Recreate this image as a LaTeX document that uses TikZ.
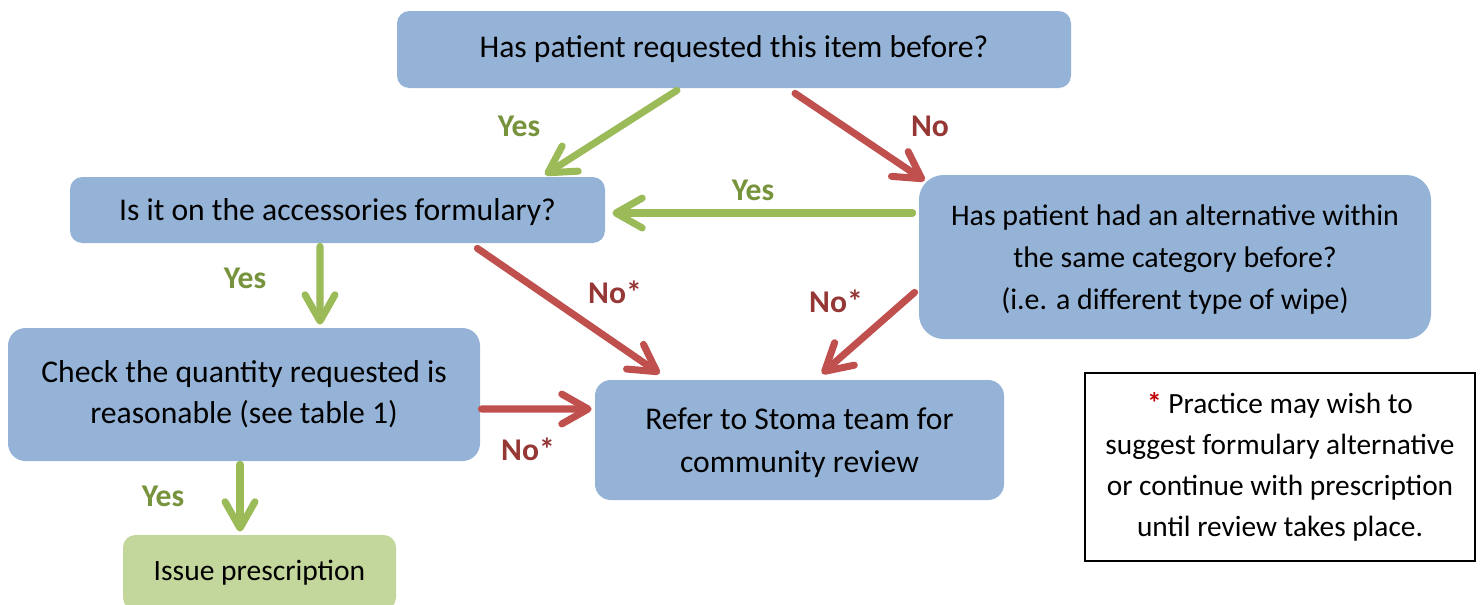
\documentclass[tikz,border=0pt]{standalone}
\usepackage{fontspec}
\setmainfont{Carlito}
\usetikzlibrary{arrows.meta,calc}
\definecolor{boxblue}{HTML}{95B3D7}
\definecolor{boxgreen}{HTML}{C3D69B}
\definecolor{arrgreen}{HTML}{9BBB59}
\definecolor{arrred}{HTML}{C0504D}
\definecolor{lblgreen}{HTML}{77933C}
\definecolor{lblred}{HTML}{953735}
\definecolor{starred}{HTML}{C00000}
\begin{document}
\begin{tikzpicture}[
  font=\fontsize{18}{23.5}\selectfont,
  box/.style={fill=boxblue, draw=none, rounded corners=7pt, align=center, inner sep=0pt},
  yesarrow/.style={draw=arrgreen, line width=4pt, line cap=round,
    -{Straight Barb[length=15pt,width=17pt,round]}},
  noarrow/.style={draw=arrred, line width=4pt, line cap=round,
    -{Straight Barb[length=15pt,width=17pt,round]}},
  yeslbl/.style={text=lblgreen, font=\fontsize{18}{22}\selectfont\bfseries},
  nolbl/.style={text=lblred, font=\fontsize{18}{22}\selectfont\bfseries},
]
\useasboundingbox (0,0) rectangle (29.66,-12.08);
\begin{scope}
\clip (0,0) rectangle (29.66,-12.08);
\node[box, minimum width=13.48cm, minimum height=1.54cm] (top) at (14.68,-0.99)
  {Has patient requested this item before?};
\node[box, minimum width=10.7cm, minimum height=1.32cm, text depth=0cm] (form) at (6.75,-4.2)
  {Is it on the accessories formulary?};
\node[box, rounded corners=14pt, minimum width=10.24cm, minimum height=3.28cm,
  font=\fontsize{17}{24}\selectfont, text depth=0cm] (alt) at (23.5,-5.14)
  {Has patient had an alternative within\\the same category before?\\(i.e. a different type of wipe)};
\node[box, rounded corners=10pt, minimum width=9.44cm, minimum height=2.66cm] (check) at (4.88,-7.89)
  {Check the quantity requested is\\reasonable (see table 1)};
\node[box, rounded corners=9pt, minimum width=8.18cm, minimum height=2.4cm,
  font=\fontsize{18}{24.5}\selectfont, text depth=0cm] (refer) at (15.99,-8.8)
  {Refer to Stoma team for\\community review};
\node[box, fill=boxgreen, minimum width=5.46cm, minimum height=1.5cm,
  font=\fontsize{16.8}{22}\selectfont] (issue) at (5.19,-11.45)
  {Issue prescription};
\end{scope}
\node[draw=black, line width=0.6pt, fill=white, align=center, inner sep=0pt,
  minimum width=7.8cm, minimum height=3.76cm, font=\fontsize{16.7}{23.3}\selectfont] (note) at (25.6,-9.34)
  {{\color{starred}\bfseries *} Practice may wish to\\suggest formulary alternative\\or continue with prescription\\until review takes place.};

\draw[yesarrow] ([shift={(-1.14,-0.04)}]top.south) -- ([shift={(4.15,0.04)}]form.north);
\draw[noarrow] ([shift={(1.22,-0.1)}]top.south) -- ([shift={(0.12,-0.12)}]alt.north west);
\draw[yesarrow] ([shift={(-0.12,0.88)}]alt.west) -- ([shift={(0.14,-0.06)}]form.east);
\draw[yesarrow] ([shift={(-0.35,-0.06)}]form.south) -- ([shift={(1.52,0.06)}]check.north);
\draw[noarrow] ([shift={(-2.56,-0.1)}]form.south east) -- ([shift={(1.3,0.12)}]refer.north west);
\draw[noarrow] ([shift={(-0.08,0.94)}]alt.south west) -- ([shift={(0.45,0.12)}]refer.north);
\draw[noarrow] ([shift={(0.02,-0.29)}]check.east) -- ([shift={(-0.06,0.62)}]refer.west);
\draw[yesarrow] ([shift={(-0.08,-0.06)}]check.south) -- ([shift={(-0.39,0.06)}]issue.north);

\node[yeslbl] (l1) at (10.38,-2.52) {Yes};
\node[nolbl] (l2) at (18.6,-2.52) {No};
\node[yeslbl] (l3) at (15.06,-3.8) {Yes};
\node[yeslbl] (l4) at (4.9,-5.56) {Yes};
\node[nolbl] (l5) at (12.3,-5.84) {No*};
\node[nolbl] (l6) at (16.72,-6.02) {No*};
\node[nolbl] (l7) at (10.56,-8.98) {No*};
\node[yeslbl] (l8) at (3.26,-9.92) {Yes};
\end{tikzpicture}
\end{document}
